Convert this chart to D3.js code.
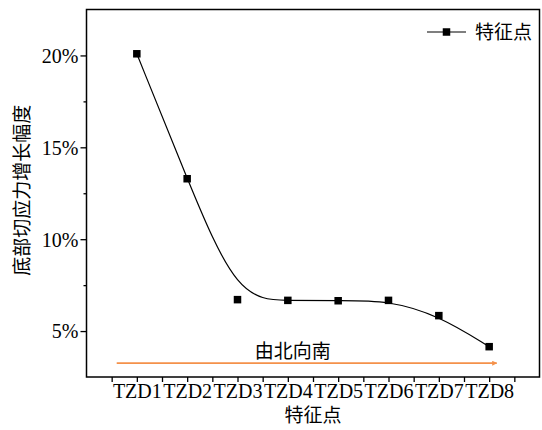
<!DOCTYPE html>
<html><head><meta charset="utf-8">
<script src="https://cdn.jsdelivr.net/npm/d3@7"></script>
<style>
html,body{margin:0;padding:0;background:#fff;}
text{font-family:"Liberation Serif","Times New Roman","Noto Sans CJK SC",serif;}
.cjk{font-family:"Noto Sans CJK SC",sans-serif;}
</style></head>
<body><svg id="c" width="542" height="430"></svg>
<script>
const categories = ["TZD1","TZD2","TZD3","TZD4","TZD5","TZD6","TZD7","TZD8"];
const values = [20.09, 13.29, 6.71, 6.67, 6.65, 6.67, 5.84, 4.15];
const yTicks = [5, 10, 15, 20];
const yMinorTicks = [7.5, 12.5, 17.5];
const yTitle = "底部切应力增长幅度";
const xTitle = "特征点";
const legendLabel = "特征点";
const arrowLabel = "由北向南";
const arrowRange = [0.6, 8.15];
const arrowLevel = 3.25;

const svg = d3.select("#c");
const L = 86.5, R = 539.5, T = 9.5, B = 377;
const x = d3.scaleLinear().domain([0, 9]).range([L, R]);
const y = d3.scaleLinear().domain([2.5, 22.5]).range([B, T]);
const xi = c => x(categories.indexOf(c) + 1);

// frame
svg.append("rect").attr("x", L).attr("y", T).attr("width", R - L).attr("height", B - T)
  .attr("fill", "none").attr("stroke", "#000").attr("stroke-width", 1.5);

// x axis ticks
const xtv = d3.range(0.5, 9, 0.5);
const xAxis = d3.axisBottom(x).tickValues(xtv).tickSize(5).tickSizeOuter(0)
  .tickFormat(d => Number.isInteger(d) ? categories[d - 1] : "");
const gx = svg.append("g").attr("transform", `translate(0,${B})`).call(xAxis);
gx.select(".domain").remove();
gx.selectAll("line").attr("stroke-width", 1.3);
gx.selectAll("text").attr("font-size", 20).attr("fill", "#000").attr("y", 7).attr("dy", "0.71em");

// y axis
const yAxis = d3.axisLeft(y).tickValues(yTicks).tickSize(6).tickSizeOuter(0).tickFormat(d => d + "%");
const gy = svg.append("g").attr("transform", `translate(${L},0)`).call(yAxis);
gy.select(".domain").remove();
gy.selectAll("line").attr("stroke-width", 1.3);
gy.selectAll("text").attr("font-size", 20).attr("fill", "#000").attr("x", -8).attr("dy", "0.34em");
const gym = svg.append("g").attr("transform", `translate(${L},0)`)
  .call(d3.axisLeft(y).tickValues(yMinorTicks).tickSize(3).tickSizeOuter(0).tickFormat(""));
gym.select(".domain").remove();
gym.selectAll("line").attr("stroke-width", 1.3);

// titles
svg.append("text").attr("class", "cjk").attr("transform", `translate(29,${(T + B) / 2 - 3}) rotate(-90)`)
  .attr("text-anchor", "middle").attr("font-size", 19).text(yTitle);
svg.append("text").attr("class", "cjk").attr("x", x(4.5)).attr("y", 422)
  .attr("text-anchor", "middle").attr("font-size", 19).text(xTitle);

// arrow
svg.append("defs").append("marker").attr("id", "ah").attr("viewBox", "0 0 10 10")
  .attr("refX", 9).attr("refY", 5).attr("markerWidth", 5).attr("markerHeight", 5)
  .attr("markerUnits", "userSpaceOnUse").attr("orient", "auto")
  .append("path").attr("d", "M0,0 L10,5 L0,10 Z").attr("fill", "#f4914a");
svg.append("line").attr("x1", x(arrowRange[0])).attr("x2", x(arrowRange[1]))
  .attr("y1", y(arrowLevel)).attr("y2", y(arrowLevel))
  .attr("stroke", "#f4914a").attr("stroke-width", 1.8).attr("marker-end", "url(#ah)");
svg.append("text").attr("class", "cjk").attr("x", x(4.1)).attr("y", y(arrowLevel) - 5)
  .attr("text-anchor", "middle").attr("font-size", 19).text(arrowLabel);

// B-spline curve through all points
const line = d3.line().x(c => xi(c)).y(c => y(values[categories.indexOf(c)])).curve(d3.curveBasis);
svg.append("path").datum(categories).attr("d", line)
  .attr("fill", "none").attr("stroke", "#000").attr("stroke-width", 1.2);

// markers
const ms = 7.5;
svg.selectAll("rect.pt").data(categories).join("rect").attr("class", "pt")
  .attr("x", c => xi(c) - ms / 2).attr("y", (c, i) => y(values[i]) - ms / 2)
  .attr("width", ms).attr("height", ms).attr("fill", "#000");

// legend
const ly = 32;
svg.append("line").attr("x1", 427).attr("x2", 466).attr("y1", ly).attr("y2", ly)
  .attr("stroke", "#000").attr("stroke-width", 1.2);
svg.append("rect").attr("x", 446.5 - ms / 2).attr("y", ly - ms / 2).attr("width", ms).attr("height", ms).attr("fill", "#000");
svg.append("text").attr("class", "cjk").attr("x", 475).attr("y", ly).attr("dy", "0.36em")
  .attr("font-size", 19).text(legendLabel);
</script></body></html>
